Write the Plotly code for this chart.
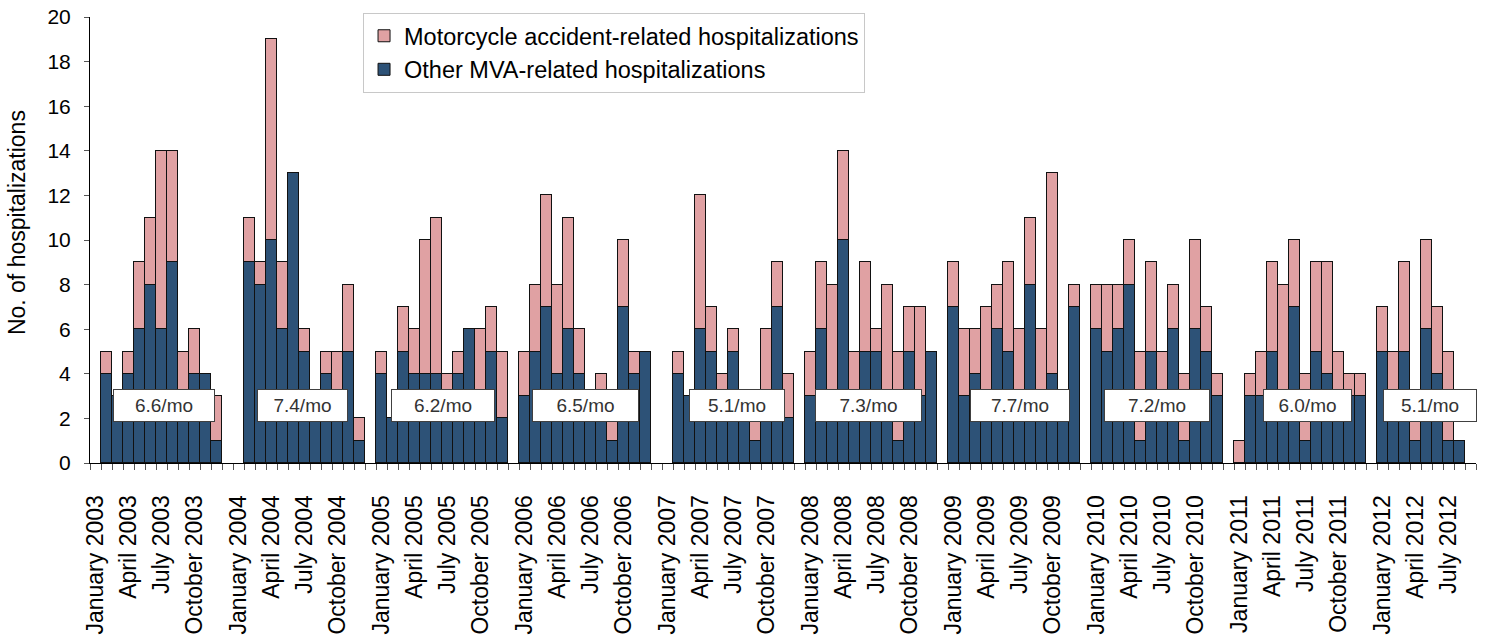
import plotly.graph_objects as go

# ---- data ----
years = [2003, 2004, 2005, 2006, 2007, 2008, 2009, 2010, 2011, 2012]
month_names = ["January", "February", "March", "April", "May", "June", "July",
               "August", "September", "October", "November", "December"]

other_mva = {
    2003: [0, 4, 3, 4, 6, 8, 6, 9, 3, 4, 4, 1],
    2004: [0, 9, 8, 10, 6, 13, 5, 2, 4, 3, 5, 1],
    2005: [4, 2, 5, 4, 4, 4, 3, 4, 6, 3, 5, 2],
    2006: [3, 5, 7, 4, 6, 4, 2, 2, 1, 7, 4, 5],
    2007: [0, 4, 3, 6, 5, 2, 5, 3, 1, 2, 7, 2],
    2008: [3, 6, 3, 10, 3, 5, 5, 3, 1, 5, 3, 5],
    2009: [7, 3, 4, 3, 6, 5, 3, 8, 3, 4, 3, 7],
    2010: [6, 5, 6, 8, 1, 5, 3, 6, 1, 6, 5, 3],
    2011: [0, 3, 3, 5, 3, 7, 1, 5, 4, 3, 3, 3],
    2012: [5, 3, 5, 1, 6, 4, 1, 1, 0],
}
motorcycle = {
    2003: [0, 1, 0, 1, 3, 3, 8, 5, 2, 2, 0, 2],
    2004: [0, 2, 1, 9, 3, 0, 1, 0, 1, 2, 3, 1],
    2005: [1, 0, 2, 2, 6, 7, 1, 1, 0, 3, 2, 3],
    2006: [2, 3, 5, 4, 5, 2, 0, 2, 1, 3, 1, 0],
    2007: [0, 1, 0, 6, 2, 2, 1, 0, 1, 4, 2, 2],
    2008: [2, 3, 5, 4, 2, 4, 1, 5, 4, 2, 4, 0],
    2009: [2, 3, 2, 4, 2, 4, 3, 3, 3, 9, 0, 1],
    2010: [2, 3, 2, 2, 4, 4, 2, 2, 3, 4, 2, 1],
    2011: [1, 1, 2, 4, 5, 3, 3, 4, 5, 2, 1, 1],
    2012: [2, 2, 4, 1, 4, 3, 4, 0, 0],
}
monthly_rate = ["6.6/mo", "7.4/mo", "6.2/mo", "6.5/mo", "5.1/mo",
                "7.3/mo", "7.7/mo", "7.2/mo", "6.0/mo", "5.1/mo"]
labelled_months = [0, 3, 6, 9]  # January, April, July, October

# ---- build category positions: 12 months + 1 blank slot per year ----
SLOTS_PER_YEAR = 13
xs, blue_vals, pink_vals = [], [], []
tickvals, ticktext = [], []
group_centers = []
for yi, yr in enumerate(years):
    n = len(other_mva[yr])
    for m in range(n):
        pos = yi * SLOTS_PER_YEAR + m + 0.5
        xs.append(pos)
        # zero counts draw no bar
        blue_vals.append(other_mva[yr][m] or None)
        pink_vals.append(motorcycle[yr][m] or None)
        if m in labelled_months:
            tickvals.append(pos)
            ticktext.append(f"{month_names[m]} {yr}")
    group_centers.append(yi * SLOTS_PER_YEAR + n / 2)
n_slots = (len(years) - 1) * SLOTS_PER_YEAR + len(other_mva[years[-1]])

PINK = "#E0A1A3"
BLUE = "#2D5277"
FONT = "Liberation Sans, Arial, sans-serif"

fig = go.Figure()
fig.add_trace(go.Bar(
    x=xs, y=blue_vals, width=1.0, name="Other MVA-related hospitalizations",
    marker=dict(color=BLUE, line=dict(color="#111111", width=1)),
))
fig.add_trace(go.Bar(
    x=xs, y=pink_vals, width=1.0, name="Motorcycle accident-related hospitalizations",
    marker=dict(color=PINK, line=dict(color="#111111", width=1)),
))

# rate boxes: slight manual nudges (in slot units) and box widths (px), as in the reference
box_nudge = [0.7, 0.3, 0.1, 0.0, 0.8, -0.2, 0.5, 0.0, 0.7, 0.3]
box_width = [96, 85, 98, 101, 90, 101, 94, 100, 83, 88]
for cx, txt, dx, bw in zip(group_centers, monthly_rate, box_nudge, box_width):
    fig.add_annotation(
        x=cx + dx, y=2.57, xref="x", yref="y", text=txt, showarrow=False,
        font=dict(family=FONT, size=19, color="#333333"),
        bgcolor="white", bordercolor="#404040", borderwidth=1,
        width=bw, height=27, borderpad=2, xanchor="center", yanchor="middle",
    )

# y-axis title placed as rotated text left of the tick labels
fig.add_annotation(
    x=-0.0527, y=0.54, xref="paper", yref="paper", text="No. of hospitalizations",
    textangle=-90, showarrow=False, xanchor="center", yanchor="middle",
    font=dict(family=FONT, size=23, color="#000000"),
)

fig.update_layout(
    barmode="stack",
    bargap=0,
    width=1488, height=635,
    margin=dict(l=90, r=12, t=17, b=172, autoexpand=False),
    paper_bgcolor="white", plot_bgcolor="white",
    font=dict(family=FONT, size=21, color="#000000"),
    showlegend=True,
    legend=dict(
        x=0.197, y=1.009, xanchor="left", yanchor="top",
        traceorder="reversed",
        bgcolor="white", bordercolor="#c8c8c8", borderwidth=1,
        font=dict(family=FONT, size=23.5, color="#000000"),
        tracegroupgap=0, itemwidth=30,
    ),
    xaxis=dict(
        range=[0, n_slots], tickmode="array", tickvals=tickvals, ticktext=ticktext,
        tickangle=-90, ticks="", showgrid=False, zeroline=False, automargin=False,
        showline=True, linecolor="#000000", linewidth=1,
        ticklabelstandoff=22,
        tickfont=dict(family=FONT, size=23, color="#000000"),
        minor=dict(tickmode="array", tickvals=list(range(0, n_slots + 1)),
                   ticks="outside", ticklen=6, tickcolor="#555555", tickwidth=1,
                   showgrid=False),
    ),
    yaxis=dict(
        range=[0, 20], tickmode="linear", tick0=0, dtick=2,
        ticks="outside", ticklen=5, tickcolor="#555555", automargin=False,
        showgrid=False, zeroline=False,
        showline=True, linecolor="#000000", linewidth=1,
        ticklabelstandoff=9,
        tickfont=dict(family=FONT, size=21, color="#000000"),
    ),
)

# remove the browser's default page margin so the figure sits at the window origin
fig.write_html("out.html", config={"displayModeBar": False},
               post_script="document.body.style.margin='0';")
